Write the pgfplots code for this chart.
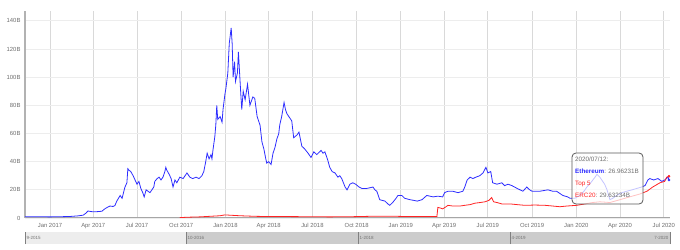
\documentclass[border=0pt]{standalone}
\usepackage{fontspec}
\setmainfont{Liberation Sans}
\usepackage{pgfplots}
\pgfplotsset{compat=1.18}
\definecolor{ethblue}{RGB}{45,45,255}
\definecolor{ercred}{RGB}{255,35,35}
\definecolor{ticktext}{RGB}{110,110,110}
\begin{document}
\begin{tikzpicture}[x=1pt,y=1pt]
\useasboundingbox (0,0) rectangle (680,249);
\begin{axis}[
  at={(25pt,31pt)}, anchor=south west,
  scale only axis, width=645pt, height=207pt,
  xmin=-52, xmax=1290, ymin=0, ymax=147,
  xtick={0,90,181,273,365,455,546,638,730,820,911,1003,1095,1186,1277},
  xticklabels={Jan 2017,Apr 2017,Jul 2017,Oct 2017,Jan 2018,Apr 2018,Jul 2018,Oct 2018,Jan 2019,Apr 2019,Jul 2019,Oct 2019,Jan 2020,Apr 2020,Jul 2020},
  ytick={0,20,40,60,80,100,120,140},
  yticklabels={0,20B,40B,60B,80B,100B,120B,140B},
  grid=major,
  x grid style={color=black!15, line width=0.9pt},
  y grid style={color=black!7, line width=0.9pt},
  axis x line*=bottom, axis y line*=left,
  x axis line style={black!35, line width=1pt},
  y axis line style={black!30, line width=1.4pt},
  major tick length=0pt,
  tick label style={font=\fontsize{5.9}{6}\selectfont, text=ticktext},
  xticklabel style={yshift=-2pt},
  yticklabel style={xshift=-1pt},
  clip=true,
]
\addplot[ethblue, line width=0.8pt] coordinates {
(-52,0.9)(-31,0.9)(0,0.8)(21,0.9)(42,1.1)(58,1.5)(69,2.0)(75,3.5)(79,5.0)(85,4.6)(89,4.4)(98,4.5)(108,4.8)(114,6.5)(119,7.5)(125,8.5)(131,8.2)(135,8.8)(139,12)(146,16)(150,14)(156,22)(160,25)(162,35)(164,34)(168,33)(173,30)(177,27)(181,24)(185,26)(189,21)(193,18)(196,15)(200,20)(204,19)(208,18)(212,20)(216,22)(218,26)(223,28)(227,29)(231,27)(235,29)(239,33)(241,36)(243,34)(248,31)(252,28)(256,22)(260,27)(264,25)(270,29)(277,28)(285,32)(291,29)(297,28)(304,29)(310,28)(316,30)(320,33)(324,40)(327,46)(331,42)(335,45)(337,42)(339,48)(343,58)(345,66)(347,80)(349,70)(354,72)(358,68)(360,77)(364,88)(366,92)(370,103)(373,124)(377,135)(379,124)(381,100)(384,111)(386,97)(390,103)(392,118)(395,100)(397,88)(399,77)(402,90)(406,84)(411,95)(416,80)(422,86)(426,85)(431,72)(437,66)(441,54)(445,49)(449,42)(451,39)(455,40)(460,38)(464,46)(468,50)(472,56)(476,60)(478,66)(482,72)(487,82)(490,77)(493,74)(497,72)(499,71)(503,69)(507,57)(514,59)(518,61)(524,51)(530,49)(537,46)(543,43)(549,47)(555,45)(564,48)(568,46)(572,47)(578,41)(582,36)(587,33)(593,32)(599,29)(603,30)(607,28)(614,22)(618,20)(624,24)(630,25)(636,24)(643,22)(649,21)(659,21)(666,21.5)(672,22)(676,20)(680,19)(686,13)(697,12)(703,10)(707,9)(713,11)(720,14)(724,16)(732,16)(738,14)(749,13)(757,12.5)(764,12)(774,13)(784,16)(797,15)(807,15.5)(817,15)(821,18)(828,19)(838,19)(849,18)(859,19)(863,22)(868,27)(874,29)(880,28)(886,29)(894,30)(901,32)(907,36)(911,32)(917,33)(921,25)(930,24)(940,25)(946,23)(953,24)(961,23)(972,21)(978,20)(984,19)(992,22)(998,20)(1003,19)(1019,19)(1036,20)(1046,19)(1054,19)(1067,16)(1077,15)(1082,14)(1092,14)(1102,16)(1111,19)(1117,22)(1125,25)(1134,29)(1138,31)(1144,29)(1148,27)(1154,24)(1159,20)(1165,13)(1171,14)(1179,16)(1190,18)(1200,19)(1211,20)(1221,21)(1231,22)(1238,23)(1244,27)(1248,28)(1256,27)(1265,28)(1273,26)(1279,27)(1286,29)(1288,26.96)
};
\addplot[ercred, line width=0.8pt] coordinates {
(270,0.3)(291,0.6)(312,0.8)(333,1.2)(354,1.6)(364,2.2)(374,2.0)(395,1.6)(426,1.2)(458,1.0)(499,1.0)(541,0.9)(582,0.8)(624,0.9)(666,1.2)(707,1.3)(749,1.0)(790,1.0)(805,1.1)(807,7.5)(813,7.0)(817,6.5)(824,8.0)(828,9.0)(838,8.5)(853,8.5)(863,9.0)(874,9.5)(884,10.5)(895,11)(905,11.5)(913,12.5)(919,14.5)(923,11.5)(930,11)(940,10)(957,10)(972,9.5)(988,9)(1009,9.2)(1030,9)(1046,8.5)(1061,8)(1075,8.5)(1096,9)(1113,10)(1129,11)(1144,11.5)(1165,11)(1186,13)(1206,15)(1227,17)(1242,19)(1254,22)(1269,25)(1279,26)(1283,29)(1288,29.63)
};
\addplot[only marks, mark=*, mark size=1.1pt, ethblue] coordinates {(1288,26.96)};
\addplot[only marks, mark=*, mark size=1.1pt, ercred] coordinates {(1288,29.63)};
\end{axis}
% tooltip
\draw[black!65, line width=0.8pt, rounded corners=4pt, fill=white, fill opacity=0.72] (572,45) rectangle (643,96);
\begin{scope}[every node/.style={anchor=base west, inner sep=0pt, font=\fontsize{6.3}{7}\selectfont}]
\node[text=ticktext] at (575,87) {2020/07/12:};
\node at (575,75) {\textcolor{ethblue}{\textbf{Ethereum}}\textcolor{ticktext}{: 26.96231B}};
\node[text=ercred] at (575,63) {Top 5};
\node at (575,51) {\textcolor{ercred}{ERC20}\textcolor{ticktext}{: 29.63234B}};
\end{scope}
% navigator
\fill[black!7] (25,5) rectangle (186,17);
\fill[black!20] (186,5) rectangle (671,17);
\foreach \xx in {25,186,358,510,670} {\draw[black!50, line width=0.5pt] (\xx,5) -- (\xx,17);}
\begin{scope}[every node/.style={inner sep=0pt, font=\fontsize{4.5}{5}\selectfont, text=black!55}]
\node[anchor=west] at (26.5,11) {9-2015};
\node[anchor=west] at (187.5,11) {10-2016};
\node[anchor=west] at (359.5,11) {1-2018};
\node[anchor=west] at (511.5,11) {4-2019};
\node[anchor=east] at (668.5,11) {7-2020};
\end{scope}
\end{tikzpicture}
\end{document}
